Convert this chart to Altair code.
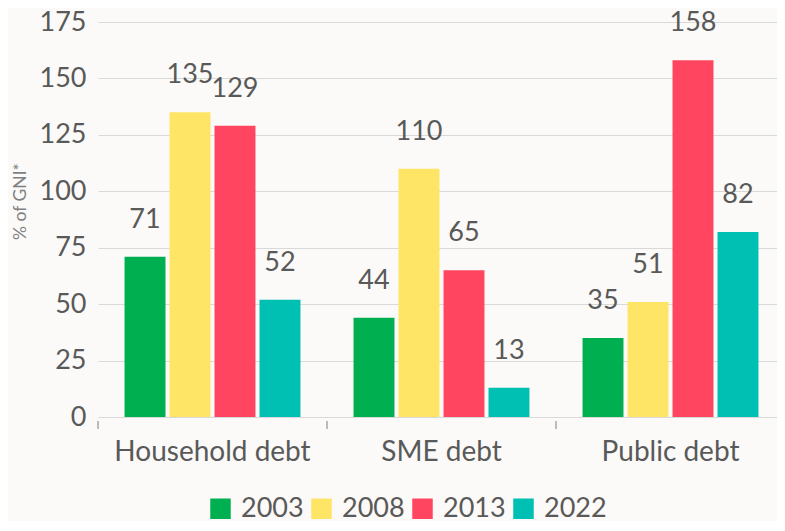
import altair as alt
import pandas as pd

categories = ["Household debt", "SME debt", "Public debt"]
years = ["2003", "2008", "2013", "2022"]
v2003 = [71, 44, 35]
v2008 = [135, 110, 51]
v2013 = [129, 65, 158]
v2022 = [52, 13, 82]
y_ticks = [0, 25, 50, 75, 100, 125, 150, 175]
colors = ["#00b050", "#ffe566", "#ff4560", "#00bfb3"]

rows = []
for i, c in enumerate(categories):
    for yr, vals in zip(years, [v2003, v2008, v2013, v2022]):
        rows.append({"category": c, "year": yr, "value": vals[i]})
df = pd.DataFrame(rows)
cat_df = pd.DataFrame({"category": categories})

FONT = "Lato"
W, H = 679, 395

x_scale = alt.Scale(domain=categories, paddingInner=0, paddingOuter=0, range=[0, 687])
x_axis = alt.Axis(title=None, ticks=False, domain=False, labelFontSize=28,
                  labelFont=FONT, labelColor="#595959", labelPadding=21,
                  labelAngle=0, grid=False, labelLimit=400)
xoff = alt.XOffset("year:N", sort=years, scale=alt.Scale(paddingInner=0.09, paddingOuter=0.59))
y_axis = alt.Axis(
    values=y_ticks, title="% of GNI*", labelFontSize=27, labelFont=FONT,
    labelColor="#595959", gridColor="#d9d9d9", domain=False, ticks=False,
    labelPadding=12, titleFontSize=17.5, titleColor="#808080", titleFont=FONT,
    titleFontWeight="normal", titleX=-78, titleY=179, titleAngle=270,
    titleAlign="center", titleBaseline="middle",
)
y_scale = alt.Scale(domain=[0, 175])

bars = alt.Chart(df).mark_bar().encode(
    x=alt.X("category:N", sort=categories, scale=x_scale, axis=x_axis),
    xOffset=xoff,
    y=alt.Y("value:Q", scale=y_scale, axis=y_axis),
    color=alt.Color("year:N", sort=years, scale=alt.Scale(domain=years, range=colors),
                    legend=alt.Legend(title=None, orient="none", direction="horizontal",
                                      legendX=109, legendY=473, symbolType="square",
                                      symbolSize=420, symbolStrokeWidth=0,
                                      labelFontSize=27, labelFont=FONT,
                                      labelColor="#595959", labelOffset=7,
                                      columnPadding=4)),
)

labels = alt.Chart(df).mark_text(dy=-37, fontSize=27, font=FONT, color="#595959",
                                 baseline="middle").encode(
    x=alt.X("category:N", sort=categories, scale=x_scale, axis=x_axis),
    xOffset=xoff,
    y=alt.Y("value:Q", scale=y_scale, axis=y_axis),
    text=alt.Text("value:Q"),
)

ticks = alt.Chart(cat_df).mark_rule(color="#a6a6a6", strokeWidth=1.5).encode(
    x=alt.X("category:N", sort=categories, scale=x_scale, bandPosition=0, axis=x_axis),
    y=alt.value(H + 4),
    y2=alt.value(H + 12),
)

chart = alt.layer(bars, labels, ticks).properties(
    width=W, height=H,
    autosize=alt.AutoSizeParams(type="none"),
    padding={"left": 90, "top": 14, "right": 0, "bottom": 104},
    background="#fbfaf8",
).configure_view(stroke=None)

chart.save("out.html", embed_options={"renderer": "svg", "actions": False})
